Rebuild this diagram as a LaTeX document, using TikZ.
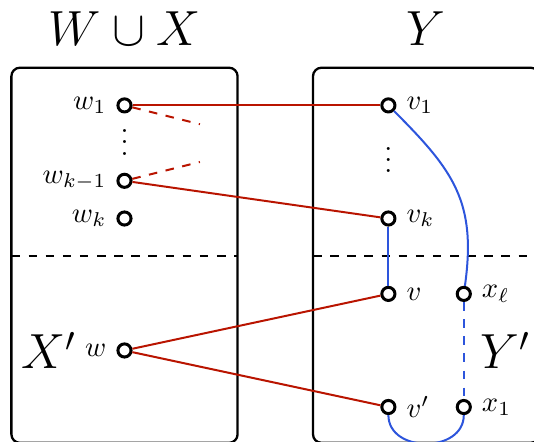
\documentclass[tikz,border=0pt]{standalone}
\usepackage{amsmath}
\usepackage{amssymb}
\usepackage{tikz}
\definecolor{edgered}{RGB}{185,20,0}
\definecolor{edgeblue}{RGB}{45,85,220}

\begin{document}
\begin{tikzpicture}[x=0.464cm,y=0.464cm,
    vert/.style={draw,circle,fill=white,line width=1.05pt,minimum size=4.6pt,inner sep=0pt},
    dotsnode/.style={inner sep=0pt,text height=9pt,text depth=0pt},
    redge/.style={line width=0.7pt,edgered},
    bedge/.style={line width=0.7pt,edgeblue}]
    \useasboundingbox (-3.302,-0.902) rectangle (10.862,10.796);

    % the two sides
    \draw[line width=0.8pt,rounded corners=3pt] (-3,-0.95) rectangle (3,9);
    \draw[line width=0.8pt,rounded corners=3pt] (5,-0.95) rectangle (11,9);
    \draw[dashed,line width=0.7pt] (-3,4) -- (3,4);
    \draw[dashed,line width=0.7pt] (5,4) -- (11,4);
    \node[anchor=base] (wxtitle) at (0,9.58) {\LARGE $W\cup X$};
    \node[anchor=base] (ytitle) at (8,9.58) {\LARGE $Y$};
    \node (xprime) at (-2,1.5) {\LARGE $X'$};
    \node (yprime) at (10.1,1.5) {\LARGE $Y'$};

    % left vertices
    \node[vert,label=left:$w_1$] (w1) at (0,8) {};
    \node[dotsnode] (ldots) at (0,7.02) {$\vdots$};
    \node[vert,label=left:$w_{k-1}$] (wk1) at (0,6) {};
    \node[vert,label=left:$w_k$] (wk) at (0,5) {};
    \node[vert,label=left:$w$] (w) at (0,1.5) {};

    % right vertices
    \node[vert,label=right:$v_1$] (v1) at (7,8) {};
    \node[dotsnode] (rdots) at (7,6.55) {$\vdots$};
    \node[vert,label=right:$v_k$] (vk) at (7,5) {};
    \node[vert,label=right:$v$] (v) at (7,3) {};
    \node[vert,label=right:$v'$] (vp) at (7,0) {};
    \node[vert,label=right:$x_\ell$] (xl) at (9,3) {};
    \node[vert,label=right:$x_1$] (x1) at (9,0) {};

    % edges
    \coordinate (d1) at (2,7.5);
    \coordinate (d2) at (2,6.5);
    \draw[redge] (w1) -- (v1);
    \draw[redge] (wk1) -- (vk);
    \draw[redge] (w) -- (v);
    \draw[redge] (w) -- (vp);
    \draw[redge,dashed] (w1) -- (d1);
    \draw[redge,dashed] (wk1) -- (d2);
    \draw[bedge] (v1) to[out=-45,in=82,looseness=1.15] (xl);
    \draw[bedge] (vk) -- (v);
    \draw[bedge,dashed] (xl) -- (x1);
    \draw[bedge] (vp) to[out=-90,in=-90,looseness=1.3] (x1);
\end{tikzpicture}
\end{document}
